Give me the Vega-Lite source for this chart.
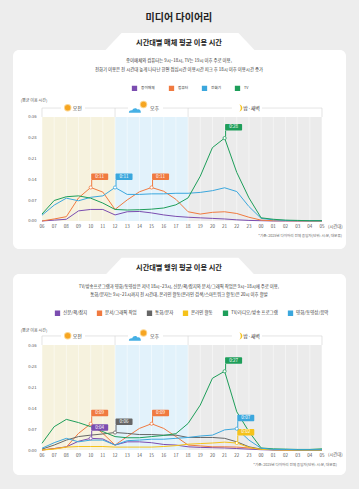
{
"$schema":"https://vega.github.io/schema/vega-lite/v6.json",
"width":359,"height":489,
"autosize":{"type":"fit","contains":"padding"},
"padding":0,
"background":"#ededed",
"config":{"font":"Noto Sans CJK KR","view":{"stroke":null}},
"datasets":{
"media":[
{"t":0,"m":"종이매체","v":0},{"t":1,"m":"종이매체","v":0.3},{"t":2,"m":"종이매체","v":0.6},{"t":3,"m":"종이매체","v":3.5},{"t":4,"m":"종이매체","v":4},{"t":5,"m":"종이매체","v":4},{"t":6,"m":"종이매체","v":2.1},{"t":7,"m":"종이매체","v":3.2},{"t":8,"m":"종이매체","v":3.3},{"t":9,"m":"종이매체","v":2.8},{"t":10,"m":"종이매체","v":2.1},{"t":11,"m":"종이매체","v":1.6},{"t":12,"m":"종이매체","v":1.3},{"t":13,"m":"종이매체","v":1.1},{"t":14,"m":"종이매체","v":0.9},{"t":15,"m":"종이매체","v":0.7},{"t":16,"m":"종이매체","v":0.4},{"t":17,"m":"종이매체","v":0.2},{"t":18,"m":"종이매체","v":0.1},{"t":19,"m":"종이매체","v":0},{"t":20,"m":"종이매체","v":0},{"t":21,"m":"종이매체","v":0},{"t":22,"m":"종이매체","v":0},{"t":23,"m":"종이매체","v":0},
{"t":0,"m":"컴퓨터","v":0},{"t":1,"m":"컴퓨터","v":0.7},{"t":2,"m":"컴퓨터","v":1.5},{"t":3,"m":"컴퓨터","v":8},{"t":4,"m":"컴퓨터","v":11.6},{"t":5,"m":"컴퓨터","v":10},{"t":6,"m":"컴퓨터","v":4},{"t":7,"m":"컴퓨터","v":7.3},{"t":8,"m":"컴퓨터","v":10.1},{"t":9,"m":"컴퓨터","v":11.6},{"t":10,"m":"컴퓨터","v":10.3},{"t":11,"m":"컴퓨터","v":7.5},{"t":12,"m":"컴퓨터","v":3.2},{"t":13,"m":"컴퓨터","v":2.4},{"t":14,"m":"컴퓨터","v":3},{"t":15,"m":"컴퓨터","v":3.2},{"t":16,"m":"컴퓨터","v":2.6},{"t":17,"m":"컴퓨터","v":1.3},{"t":18,"m":"컴퓨터","v":0.3},{"t":19,"m":"컴퓨터","v":0.1},{"t":20,"m":"컴퓨터","v":0.1},{"t":21,"m":"컴퓨터","v":0},{"t":22,"m":"컴퓨터","v":0},{"t":23,"m":"컴퓨터","v":0},
{"t":0,"m":"전화기","v":2},{"t":1,"m":"전화기","v":5.5},{"t":2,"m":"전화기","v":7.9},{"t":3,"m":"전화기","v":7},{"t":4,"m":"전화기","v":8.2},{"t":5,"m":"전화기","v":8.7},{"t":6,"m":"전화기","v":11.6},{"t":7,"m":"전화기","v":9.2},{"t":8,"m":"전화기","v":9.2},{"t":9,"m":"전화기","v":9.4},{"t":10,"m":"전화기","v":9.4},{"t":11,"m":"전화기","v":9.6},{"t":12,"m":"전화기","v":9.6},{"t":13,"m":"전화기","v":9.9},{"t":14,"m":"전화기","v":10.5},{"t":15,"m":"전화기","v":11.5},{"t":16,"m":"전화기","v":10.2},{"t":17,"m":"전화기","v":5},{"t":18,"m":"전화기","v":0.9},{"t":19,"m":"전화기","v":0.4},{"t":20,"m":"전화기","v":0.2},{"t":21,"m":"전화기","v":0.1},{"t":22,"m":"전화기","v":0.1},{"t":23,"m":"전화기","v":0.1},
{"t":0,"m":"TV","v":2.4},{"t":1,"m":"TV","v":7.1},{"t":2,"m":"TV","v":8.4},{"t":3,"m":"TV","v":8.7},{"t":4,"m":"TV","v":7.9},{"t":5,"m":"TV","v":6.2},{"t":6,"m":"TV","v":4},{"t":7,"m":"TV","v":3.8},{"t":8,"m":"TV","v":3.9},{"t":9,"m":"TV","v":4.1},{"t":10,"m":"TV","v":4.5},{"t":11,"m":"TV","v":5.6},{"t":12,"m":"TV","v":8},{"t":13,"m":"TV","v":15.5},{"t":14,"m":"TV","v":25.4},{"t":15,"m":"TV","v":28.7},{"t":16,"m":"TV","v":16.8},{"t":17,"m":"TV","v":8},{"t":18,"m":"TV","v":1.1},{"t":19,"m":"TV","v":0.6},{"t":20,"m":"TV","v":0.3},{"t":21,"m":"TV","v":0.2},{"t":22,"m":"TV","v":0.1},{"t":23,"m":"TV","v":0.1}
],
"act":[
{"t":0,"m":"신문/책/잡지","v":0},{"t":1,"m":"신문/책/잡지","v":0.5},{"t":2,"m":"신문/책/잡지","v":1.1},{"t":3,"m":"신문/책/잡지","v":3},{"t":4,"m":"신문/책/잡지","v":4},{"t":5,"m":"신문/책/잡지","v":3.8},{"t":6,"m":"신문/책/잡지","v":1.7},{"t":7,"m":"신문/책/잡지","v":2.8},{"t":8,"m":"신문/책/잡지","v":2.8},{"t":9,"m":"신문/책/잡지","v":2.5},{"t":10,"m":"신문/책/잡지","v":1.9},{"t":11,"m":"신문/책/잡지","v":1.7},{"t":12,"m":"신문/책/잡지","v":1.1},{"t":13,"m":"신문/책/잡지","v":0.9},{"t":14,"m":"신문/책/잡지","v":0.8},{"t":15,"m":"신문/책/잡지","v":0.7},{"t":16,"m":"신문/책/잡지","v":0.5},{"t":17,"m":"신문/책/잡지","v":0.3},{"t":18,"m":"신문/책/잡지","v":0.1},{"t":19,"m":"신문/책/잡지","v":0},{"t":20,"m":"신문/책/잡지","v":0},{"t":21,"m":"신문/책/잡지","v":0},{"t":22,"m":"신문/책/잡지","v":0},{"t":23,"m":"신문/책/잡지","v":0},
{"t":0,"m":"문서/그래픽 작업","v":0},{"t":1,"m":"문서/그래픽 작업","v":0.5},{"t":2,"m":"문서/그래픽 작업","v":1},{"t":3,"m":"문서/그래픽 작업","v":5.7},{"t":4,"m":"문서/그래픽 작업","v":9},{"t":5,"m":"문서/그래픽 작업","v":5.7},{"t":6,"m":"문서/그래픽 작업","v":1.7},{"t":7,"m":"문서/그래픽 작업","v":4.6},{"t":8,"m":"문서/그래픽 작업","v":7.4},{"t":9,"m":"문서/그래픽 작업","v":9},{"t":10,"m":"문서/그래픽 작업","v":7.4},{"t":11,"m":"문서/그래픽 작업","v":4.6},{"t":12,"m":"문서/그래픽 작업","v":1.7},{"t":13,"m":"문서/그래픽 작업","v":1.4},{"t":14,"m":"문서/그래픽 작업","v":1.1},{"t":15,"m":"문서/그래픽 작업","v":1.1},{"t":16,"m":"문서/그래픽 작업","v":1},{"t":17,"m":"문서/그래픽 작업","v":0.7},{"t":18,"m":"문서/그래픽 작업","v":0.3},{"t":19,"m":"문서/그래픽 작업","v":0.1},{"t":20,"m":"문서/그래픽 작업","v":0},{"t":21,"m":"문서/그래픽 작업","v":0},{"t":22,"m":"문서/그래픽 작업","v":0},{"t":23,"m":"문서/그래픽 작업","v":0},
{"t":0,"m":"통화/문자","v":0.3},{"t":1,"m":"통화/문자","v":1.7},{"t":2,"m":"통화/문자","v":3.4},{"t":3,"m":"통화/문자","v":4.6},{"t":4,"m":"통화/문자","v":5.1},{"t":5,"m":"통화/문자","v":5.5},{"t":6,"m":"통화/문자","v":6},{"t":7,"m":"통화/문자","v":5.7},{"t":8,"m":"통화/문자","v":5.3},{"t":9,"m":"통화/문자","v":5.3},{"t":10,"m":"통화/문자","v":5.1},{"t":11,"m":"통화/문자","v":5.1},{"t":12,"m":"통화/문자","v":4.3},{"t":13,"m":"통화/문자","v":4.3},{"t":14,"m":"통화/문자","v":4.3},{"t":15,"m":"통화/문자","v":4},{"t":16,"m":"통화/문자","v":2.8},{"t":17,"m":"통화/문자","v":1.1},{"t":18,"m":"통화/문자","v":0.3},{"t":19,"m":"통화/문자","v":0.1},{"t":20,"m":"통화/문자","v":0.1},{"t":21,"m":"통화/문자","v":0},{"t":22,"m":"통화/문자","v":0},{"t":23,"m":"통화/문자","v":0},
{"t":0,"m":"온라인 활동","v":0},{"t":1,"m":"온라인 활동","v":0.3},{"t":2,"m":"온라인 활동","v":1},{"t":3,"m":"온라인 활동","v":1.2},{"t":4,"m":"온라인 활동","v":1.2},{"t":5,"m":"온라인 활동","v":1.2},{"t":6,"m":"온라인 활동","v":1},{"t":7,"m":"온라인 활동","v":1},{"t":8,"m":"온라인 활동","v":1},{"t":9,"m":"온라인 활동","v":1},{"t":10,"m":"온라인 활동","v":1.2},{"t":11,"m":"온라인 활동","v":1.5},{"t":12,"m":"온라인 활동","v":2},{"t":13,"m":"온라인 활동","v":2.2},{"t":14,"m":"온라인 활동","v":2.4},{"t":15,"m":"온라인 활동","v":2.7},{"t":16,"m":"온라인 활동","v":2.4},{"t":17,"m":"온라인 활동","v":0.9},{"t":18,"m":"온라인 활동","v":0.2},{"t":19,"m":"온라인 활동","v":0.1},{"t":20,"m":"온라인 활동","v":0},{"t":21,"m":"온라인 활동","v":0},{"t":22,"m":"온라인 활동","v":0},{"t":23,"m":"온라인 활동","v":0},
{"t":0,"m":"TV/라디오/방송 프로그램","v":2.3},{"t":1,"m":"TV/라디오/방송 프로그램","v":8},{"t":2,"m":"TV/라디오/방송 프로그램","v":10.5},{"t":3,"m":"TV/라디오/방송 프로그램","v":9.4},{"t":4,"m":"TV/라디오/방송 프로그램","v":8},{"t":5,"m":"TV/라디오/방송 프로그램","v":6.3},{"t":6,"m":"TV/라디오/방송 프로그램","v":4.6},{"t":7,"m":"TV/라디오/방송 프로그램","v":4.2},{"t":8,"m":"TV/라디오/방송 프로그램","v":4.2},{"t":9,"m":"TV/라디오/방송 프로그램","v":4.6},{"t":10,"m":"TV/라디오/방송 프로그램","v":5},{"t":11,"m":"TV/라디오/방송 프로그램","v":5.6},{"t":12,"m":"TV/라디오/방송 프로그램","v":9.1},{"t":13,"m":"TV/라디오/방송 프로그램","v":15.4},{"t":14,"m":"TV/라디오/방송 프로그램","v":24.6},{"t":15,"m":"TV/라디오/방송 프로그램","v":27},{"t":16,"m":"TV/라디오/방송 프로그램","v":13.1},{"t":17,"m":"TV/라디오/방송 프로그램","v":6.3},{"t":18,"m":"TV/라디오/방송 프로그램","v":0.7},{"t":19,"m":"TV/라디오/방송 프로그램","v":0.4},{"t":20,"m":"TV/라디오/방송 프로그램","v":0.3},{"t":21,"m":"TV/라디오/방송 프로그램","v":0.2},{"t":22,"m":"TV/라디오/방송 프로그램","v":0.2},{"t":23,"m":"TV/라디오/방송 프로그램","v":0.4},
{"t":0,"m":"영화/동영상/음악","v":0.6},{"t":1,"m":"영화/동영상/음악","v":2.5},{"t":2,"m":"영화/동영상/음악","v":4},{"t":3,"m":"영화/동영상/음악","v":2.8},{"t":4,"m":"영화/동영상/음악","v":3.4},{"t":5,"m":"영화/동영상/음악","v":3.4},{"t":6,"m":"영화/동영상/음악","v":1.7},{"t":7,"m":"영화/동영상/음악","v":3.2},{"t":8,"m":"영화/동영상/음악","v":3.4},{"t":9,"m":"영화/동영상/음악","v":3.7},{"t":10,"m":"영화/동영상/음악","v":3.7},{"t":11,"m":"영화/동영상/음악","v":4},{"t":12,"m":"영화/동영상/음악","v":4.3},{"t":13,"m":"영화/동영상/음악","v":4.8},{"t":14,"m":"영화/동영상/음악","v":5.1},{"t":15,"m":"영화/동영상/음악","v":6.9},{"t":16,"m":"영화/동영상/음악","v":7.3},{"t":17,"m":"영화/동영상/음악","v":3.4},{"t":18,"m":"영화/동영상/음악","v":0.6},{"t":19,"m":"영화/동영상/음악","v":0.2},{"t":20,"m":"영화/동영상/음악","v":0.2},{"t":21,"m":"영화/동영상/음악","v":0.1},{"t":22,"m":"영화/동영상/음악","v":0.1},{"t":23,"m":"영화/동영상/음악","v":0.1}
],
"call1":[
{"t":4,"m":"컴퓨터","v":11.6,"label":"0:11"},{"t":6,"m":"전화기","v":11.6,"label":"0:11"},{"t":9,"m":"컴퓨터","v":11.6,"label":"0:11"},{"t":15,"m":"TV","v":28.7,"label":"0:28"}
],
"call2":[
{"t":4,"m":"문서/그래픽 작업","v":9,"label":"0:09"},{"t":4,"m":"신문/책/잡지","v":4,"label":"0:04"},{"t":6,"m":"통화/문자","v":6,"label":"0:06"},{"t":9,"m":"문서/그래픽 작업","v":9,"label":"0:09"},{"t":15,"m":"TV/라디오/방송 프로그램","v":27,"label":"0:27"},{"t":16,"m":"영화/동영상/음악","v":7.3,"label":"0:07"},{"t":16,"m":"온라인 활동","v":2.4,"label":"0:02"}
]
},
"layer":[
{
"layer":[
{"data":{"values":[{}]},"mark":{"type":"rect","fill":"#ffffff","cornerRadius":6},
 "encoding":{"x":{"datum":-2.382,"type":"quantitative","scale":{"domain":[-3.45,26.04],"nice":false,"zero":false}},"x2":{"datum":24.97},
 "y":{"datum":-9.69,"type":"quantitative","scale":{"domain":[-92.77,76.5],"nice":false,"zero":false}},"y2":{"datum":59.19}}},
{"data":{"values":[{}]},"mark":{"type":"point","shape":"M-0.78,-0.113L0.78,-0.113L1,0.12L-1,0.12Z","size":22500,"filled":true,"fill":"#ffffff","opacity":1,"strokeWidth":0},
 "encoding":{"x":{"datum":11.336,"type":"quantitative"},"y":{"datum":62.13,"type":"quantitative"}}},
{"data":{"values":[{}]},"mark":{"type":"text","text":"미디어 다이어리","fontSize":10,"fontWeight":"bold","color":"#222222","align":"center","baseline":"middle"},
 "encoding":{"x":{"datum":11.25,"type":"quantitative"},"y":{"datum":70.1,"type":"quantitative"}}},
{"data":{"values":[{}]},"mark":{"type":"text","text":"시간대별 매체 평균 이용 시간","fontSize":7.2,"fontWeight":"bold","color":"#222222","align":"center","baseline":"middle"},
 "encoding":{"x":{"datum":11.25,"type":"quantitative"},"y":{"datum":61.5,"type":"quantitative"}}},
{"data":{"values":[{}]},"mark":{"type":"text","text":"종이매체와 컴퓨터는 9시~18시, TV는 19시 이후 주로 이용,","fontSize":4.4,"color":"#333333","align":"center","baseline":"middle"},
 "encoding":{"x":{"datum":11.25,"type":"quantitative"},"y":{"datum":55.3,"type":"quantitative"}}},
{"data":{"values":[{}]},"mark":{"type":"text","text":"전화기 이용은 전 시간대 높게 나타난 한편 점심시간 이용시간 피크 후 18시 이후 이용시간 증가","fontSize":4.4,"color":"#333333","align":"center","baseline":"middle"},
 "encoding":{"x":{"datum":11.25,"type":"quantitative"},"y":{"datum":52.2,"type":"quantitative"}}},
{"data":{"values":[{}]},"mark":{"type":"rect","fill":"#f6f2de"},
 "encoding":{"x":{"datum":0,"type":"quantitative"},"x2":{"datum":6},"y":{"datum":0,"type":"quantitative"},"y2":{"datum":36}}},
{"data":{"values":[{}]},"mark":{"type":"rect","fill":"#e2f2fb"},
 "encoding":{"x":{"datum":6,"type":"quantitative"},"x2":{"datum":12},"y":{"datum":0,"type":"quantitative"},"y2":{"datum":36}}},
{"data":{"values":[{}]},"mark":{"type":"rect","fill":"#ebebeb"},
 "encoding":{"x":{"datum":12,"type":"quantitative"},"x2":{"datum":23},"y":{"datum":0,"type":"quantitative"},"y2":{"datum":36}}},
{"data":{"name":"media"},"transform":[{"filter":"datum.m == 'TV'"}],"mark":{"type":"rule","stroke":"#ffffff","strokeWidth":0.6,"opacity":0.8},
 "encoding":{"x":{"field":"t","type":"quantitative"},"y":{"datum":0,"type":"quantitative"},"y2":{"datum":36}}},
{"data":{"name":"media"},"transform":[{"filter":"datum.m == 'TV'"},{"calculate":"pad('' + ((datum.t + 6) % 24), 2, '0', 'left')","as":"hour"}],"mark":{"type":"text","fontSize":4.5,"color":"#555555","align":"center","baseline":"top","dy":3},
 "encoding":{"x":{"field":"t","type":"quantitative"},"y":{"datum":0,"type":"quantitative"},"text":{"field":"hour"}}},
{"data":{"values":[{}]},"mark":{"type":"rule","stroke":"#d4d4d4","strokeWidth":0.6},
 "encoding":{"x":{"datum":0,"type":"quantitative"},"x2":{"datum":23},"y":{"datum":39.1,"type":"quantitative"}}},
{"data":{"name":"media"},"transform":[{"filter":"datum.m == 'TV' && (datum.t == 0 || datum.t == 6 || datum.t == 12 || datum.t == 23)"}],"mark":{"type":"rule","stroke":"#d4d4d4","strokeWidth":0.6},
 "encoding":{"x":{"field":"t","type":"quantitative"},"y":{"datum":36,"type":"quantitative"},"y2":{"datum":39.1}}},
{"data":{"values":[{}]},"mark":{"type":"rect","fill":"#ffffff"},
 "encoding":{"x":{"datum":1.56,"type":"quantitative"},"x2":{"datum":3.53},"y":{"datum":37.6,"type":"quantitative"},"y2":{"datum":40.9}}},
{"data":{"values":[{}]},"mark":{"type":"rect","fill":"#ffffff"},
 "encoding":{"x":{"datum":7.06,"type":"quantitative"},"x2":{"datum":9.94},"y":{"datum":37.6,"type":"quantitative"},"y2":{"datum":40.9}}},
{"data":{"values":[{}]},"mark":{"type":"rect","fill":"#ffffff"},
 "encoding":{"x":{"datum":15.6,"type":"quantitative"},"x2":{"datum":18.07},"y":{"datum":37.6,"type":"quantitative"},"y2":{"datum":40.9}}},
{"data":{"values":[{}]},"mark":{"type":"point","shape":"circle","size":55,"filled":true,"fill":"#fcd58e","opacity":1,"strokeWidth":0},
 "encoding":{"x":{"datum":2.11,"type":"quantitative"},"y":{"datum":39.2,"type":"quantitative"}}},
{"data":{"values":[{}]},"mark":{"type":"point","shape":"circle","size":30,"filled":true,"fill":"#f6a521","opacity":1,"strokeWidth":0},
 "encoding":{"x":{"datum":2.11,"type":"quantitative"},"y":{"datum":39.2,"type":"quantitative"}}},
{"data":{"values":[{}]},"mark":{"type":"point","shape":"circle","size":55,"filled":true,"fill":"#fcd58e","opacity":1,"strokeWidth":0},
 "encoding":{"x":{"datum":8.34,"type":"quantitative"},"y":{"datum":40.3,"type":"quantitative"}}},
{"data":{"values":[{}]},"mark":{"type":"point","shape":"circle","size":30,"filled":true,"fill":"#f6a521","opacity":1,"strokeWidth":0},
 "encoding":{"x":{"datum":8.34,"type":"quantitative"},"y":{"datum":40.3,"type":"quantitative"}}},
{"data":{"values":[{}]},"mark":{"type":"point","shape":"M-1,0.45C-1,0.1 -0.7,0 -0.45,0.05C-0.35,-0.35 0.2,-0.45 0.4,-0.1C0.75,-0.2 1,0.1 0.95,0.45Z","size":150,"filled":true,"fill":"#45b0e5","opacity":1,"strokeWidth":0},
 "encoding":{"x":{"datum":7.64,"type":"quantitative"},"y":{"datum":38.4,"type":"quantitative"}}},
{"data":{"values":[{}]},"mark":{"type":"point","shape":"M0,-1A1,1 0 1,1 0,1A0.55,1 0 1,0 0,-1Z","size":49,"filled":true,"fill":"#f5c21b","opacity":1,"strokeWidth":0},
 "encoding":{"x":{"datum":16.17,"type":"quantitative"},"y":{"datum":39.1,"type":"quantitative"}}},
{"data":{"values":[{}]},"mark":{"type":"text","text":"오전","fontSize":5,"color":"#333333","align":"left","baseline":"middle"},
 "encoding":{"x":{"datum":2.52,"type":"quantitative"},"y":{"datum":39.2,"type":"quantitative"}}},
{"data":{"values":[{}]},"mark":{"type":"text","text":"오후","fontSize":5,"color":"#333333","align":"left","baseline":"middle"},
 "encoding":{"x":{"datum":8.87,"type":"quantitative"},"y":{"datum":39.2,"type":"quantitative"}}},
{"data":{"values":[{}]},"mark":{"type":"text","text":"밤·새벽","fontSize":5,"color":"#333333","align":"left","baseline":"middle"},
 "encoding":{"x":{"datum":16.54,"type":"quantitative"},"y":{"datum":39.2,"type":"quantitative"}}},
{"data":{"values":[{}]},"mark":{"type":"text","text":"(평균 이용 시간)","fontSize":4,"color":"#555555","align":"center","baseline":"middle"},
 "encoding":{"x":{"datum":-0.657,"type":"quantitative"},"y":{"datum":41.5,"type":"quantitative"}}},
{"data":{"name":"media"},"mark":{"type":"line","strokeWidth":1},
 "encoding":{
  "x":{"field":"t","type":"quantitative","axis":{"orient":"bottom","offset":-268,"zindex":2,"labels":false,"domain":false,"ticks":false,"grid":false,"title":null}},
  "y":{"field":"v","type":"quantitative","axis":{"orient":"left","offset":-40,"zindex":2,"values":[0,7.2,14.4,21.6,28.8,36],"labelExpr":"'0:' + pad('' + floor(datum.value), 2, '0', 'left')","domain":false,"ticks":false,"tickSize":0,"grid":false,"labelPadding":4,"labelFontSize":4.2,"labelColor":"#555555","title":null,"labelOverlap":false,"labelFlush":false,"labelBaseline":"middle"}},
  "color":{"field":"m","type":"nominal","scale":{"domain":["종이매체","컴퓨터","전화기","TV"],"range":["#7b4db0","#f07a40","#3ba7dd","#1e9e5a"]},
   "legend":{"orient":"none","legendX":131.5,"legendY":85,"direction":"horizontal","title":null,"symbolType":"square","symbolSize":9,"symbolStrokeWidth":2.3,"labelFontSize":3.7,"labelColor":"#333333","labelOffset":3.5,"columnPadding":9,"padding":0,"symbolOpacity":1,"labelBaseline":"middle"}}}},
{"data":{"name":"call1"},"mark":{"type":"rule","strokeWidth":1,"xOffset":1,"yOffset":-1.5,"y2Offset":-7.5},
 "encoding":{"x":{"field":"t","type":"quantitative"},"y":{"field":"v","type":"quantitative"},"y2":{"field":"v"},"color":{"field":"m","type":"nominal","legend":null}}},
{"data":{"name":"call1"},"mark":{"type":"rect","xOffset":0.5,"x2Offset":17.5,"yOffset":-14,"y2Offset":-7.5,"cornerRadius":1},
 "encoding":{"x":{"field":"t","type":"quantitative"},"x2":{"field":"t"},"y":{"field":"v","type":"quantitative"},"y2":{"field":"v"},"color":{"field":"m","type":"nominal","legend":null}}},
{"data":{"name":"call1"},"mark":{"type":"text","dx":9,"dy":-10.75,"fontSize":4.6,"fill":"#ffffff","align":"center","baseline":"middle"},
 "encoding":{"x":{"field":"t","type":"quantitative"},"y":{"field":"v","type":"quantitative"},"text":{"field":"label"}}},
{"data":{"name":"call1"},"mark":{"type":"point","filled":false,"fill":"#ffffff","size":10,"strokeWidth":0.8,"opacity":1},
 "encoding":{"x":{"field":"t","type":"quantitative"},"y":{"field":"v","type":"quantitative"},"color":{"field":"m","type":"nominal","legend":null}}},
{"data":{"values":[{}]},"mark":{"type":"text","text":"(시간대)","fontSize":4.3,"color":"#555555","align":"left","baseline":"middle"},
 "encoding":{"x":{"datum":23.49,"type":"quantitative"},"y":{"datum":-1.97,"type":"quantitative"}}},
{"data":{"values":[{}]},"mark":{"type":"text","text":"*기준: 2025년 다이어리 전체 응답자(단위: 시:분, 대분류)","fontSize":3.6,"color":"#666666","align":"right","baseline":"middle"},
 "encoding":{"x":{"datum":24.64,"type":"quantitative"},"y":{"datum":-5.19,"type":"quantitative"}}}
]
},
{
"layer":[
{"data":{"values":[{}]},"mark":{"type":"rect","fill":"#ffffff","cornerRadius":6},
 "encoding":{"x":{"datum":-2.382,"type":"quantitative","scale":{"domain":[-3.45,26.04],"nice":false,"zero":false}},"x2":{"datum":24.97},
 "y":{"datum":-8.57,"type":"quantitative","scale":{"domain":[-13.37,154.29],"nice":false,"zero":false}},"y2":{"datum":60.34}}},
{"data":{"values":[{}]},"mark":{"type":"point","shape":"M-0.78,-0.113L0.78,-0.113L1,0.12L-1,0.12Z","size":22500,"filled":true,"fill":"#ffffff","opacity":1,"strokeWidth":0},
 "encoding":{"x":{"datum":11.336,"type":"quantitative"},"y":{"datum":62.98,"type":"quantitative"}}},
{"data":{"values":[{}]},"mark":{"type":"text","text":"시간대별 행위 평균 이용 시간","fontSize":7.2,"fontWeight":"bold","color":"#222222","align":"center","baseline":"middle"},
 "encoding":{"x":{"datum":11.25,"type":"quantitative"},"y":{"datum":62.47,"type":"quantitative"}}},
{"data":{"values":[{}]},"mark":{"type":"text","text":"TV/방송프로그램과 영화/동영상은 저녁 18시~23시, 신문/책/잡지와 문서/그래픽 작업은 9시~18시에 주로 이용,","fontSize":4.4,"color":"#333333","align":"center","baseline":"middle"},
 "encoding":{"x":{"datum":11.25,"type":"quantitative"},"y":{"datum":55.82,"type":"quantitative"}}},
{"data":{"values":[{}]},"mark":{"type":"text","text":"통화/문자는 9시~21시까지 전 시간대, 온라인 활동(온라인 검색/스마트워크 활동)은 20시 이후 활발","fontSize":4.4,"color":"#333333","align":"center","baseline":"middle"},
 "encoding":{"x":{"datum":11.25,"type":"quantitative"},"y":{"datum":53.07,"type":"quantitative"}}},
{"data":{"values":[{}]},"mark":{"type":"rect","fill":"#f6f2de"},
 "encoding":{"x":{"datum":0,"type":"quantitative"},"x2":{"datum":6},"y":{"datum":0,"type":"quantitative"},"y2":{"datum":36}}},
{"data":{"values":[{}]},"mark":{"type":"rect","fill":"#e2f2fb"},
 "encoding":{"x":{"datum":6,"type":"quantitative"},"x2":{"datum":12},"y":{"datum":0,"type":"quantitative"},"y2":{"datum":36}}},
{"data":{"values":[{}]},"mark":{"type":"rect","fill":"#ebebeb"},
 "encoding":{"x":{"datum":12,"type":"quantitative"},"x2":{"datum":23},"y":{"datum":0,"type":"quantitative"},"y2":{"datum":36}}},
{"data":{"name":"act"},"transform":[{"filter":"datum.m == '통화/문자'"}],"mark":{"type":"rule","stroke":"#ffffff","strokeWidth":0.6,"opacity":0.8},
 "encoding":{"x":{"field":"t","type":"quantitative"},"y":{"datum":0,"type":"quantitative"},"y2":{"datum":36}}},
{"data":{"name":"act"},"transform":[{"filter":"datum.m == '통화/문자'"},{"calculate":"pad('' + ((datum.t + 6) % 24), 2, '0', 'left')","as":"hour"}],"mark":{"type":"text","fontSize":4.5,"color":"#555555","align":"center","baseline":"top","dy":3},
 "encoding":{"x":{"field":"t","type":"quantitative"},"y":{"datum":0,"type":"quantitative"},"text":{"field":"hour"}}},
{"data":{"values":[{}]},"mark":{"type":"rule","stroke":"#d4d4d4","strokeWidth":0.6},
 "encoding":{"x":{"datum":0,"type":"quantitative"},"x2":{"datum":23},"y":{"datum":39.1,"type":"quantitative"}}},
{"data":{"name":"act"},"transform":[{"filter":"datum.m == '통화/문자' && (datum.t == 0 || datum.t == 6 || datum.t == 12 || datum.t == 23)"}],"mark":{"type":"rule","stroke":"#d4d4d4","strokeWidth":0.6},
 "encoding":{"x":{"field":"t","type":"quantitative"},"y":{"datum":36,"type":"quantitative"},"y2":{"datum":39.1}}},
{"data":{"values":[{}]},"mark":{"type":"rect","fill":"#ffffff"},
 "encoding":{"x":{"datum":1.56,"type":"quantitative"},"x2":{"datum":3.53},"y":{"datum":37.6,"type":"quantitative"},"y2":{"datum":40.9}}},
{"data":{"values":[{}]},"mark":{"type":"rect","fill":"#ffffff"},
 "encoding":{"x":{"datum":7.06,"type":"quantitative"},"x2":{"datum":9.94},"y":{"datum":37.6,"type":"quantitative"},"y2":{"datum":40.9}}},
{"data":{"values":[{}]},"mark":{"type":"rect","fill":"#ffffff"},
 "encoding":{"x":{"datum":15.6,"type":"quantitative"},"x2":{"datum":18.07},"y":{"datum":37.6,"type":"quantitative"},"y2":{"datum":40.9}}},
{"data":{"values":[{}]},"mark":{"type":"point","shape":"circle","size":55,"filled":true,"fill":"#fcd58e","opacity":1,"strokeWidth":0},
 "encoding":{"x":{"datum":2.11,"type":"quantitative"},"y":{"datum":39.2,"type":"quantitative"}}},
{"data":{"values":[{}]},"mark":{"type":"point","shape":"circle","size":30,"filled":true,"fill":"#f6a521","opacity":1,"strokeWidth":0},
 "encoding":{"x":{"datum":2.11,"type":"quantitative"},"y":{"datum":39.2,"type":"quantitative"}}},
{"data":{"values":[{}]},"mark":{"type":"point","shape":"circle","size":55,"filled":true,"fill":"#fcd58e","opacity":1,"strokeWidth":0},
 "encoding":{"x":{"datum":8.34,"type":"quantitative"},"y":{"datum":40.1,"type":"quantitative"}}},
{"data":{"values":[{}]},"mark":{"type":"point","shape":"circle","size":30,"filled":true,"fill":"#f6a521","opacity":1,"strokeWidth":0},
 "encoding":{"x":{"datum":8.34,"type":"quantitative"},"y":{"datum":40.1,"type":"quantitative"}}},
{"data":{"values":[{}]},"mark":{"type":"point","shape":"M-1,0.45C-1,0.1 -0.7,0 -0.45,0.05C-0.35,-0.35 0.2,-0.45 0.4,-0.1C0.75,-0.2 1,0.1 0.95,0.45Z","size":150,"filled":true,"fill":"#45b0e5","opacity":1,"strokeWidth":0},
 "encoding":{"x":{"datum":7.64,"type":"quantitative"},"y":{"datum":38.4,"type":"quantitative"}}},
{"data":{"values":[{}]},"mark":{"type":"point","shape":"M0,-1A1,1 0 1,1 0,1A0.55,1 0 1,0 0,-1Z","size":49,"filled":true,"fill":"#f5c21b","opacity":1,"strokeWidth":0},
 "encoding":{"x":{"datum":16.17,"type":"quantitative"},"y":{"datum":39.1,"type":"quantitative"}}},
{"data":{"values":[{}]},"mark":{"type":"text","text":"오전","fontSize":5,"color":"#333333","align":"left","baseline":"middle"},
 "encoding":{"x":{"datum":2.52,"type":"quantitative"},"y":{"datum":39.2,"type":"quantitative"}}},
{"data":{"values":[{}]},"mark":{"type":"text","text":"오후","fontSize":5,"color":"#333333","align":"left","baseline":"middle"},
 "encoding":{"x":{"datum":8.87,"type":"quantitative"},"y":{"datum":39.2,"type":"quantitative"}}},
{"data":{"values":[{}]},"mark":{"type":"text","text":"밤·새벽","fontSize":5,"color":"#333333","align":"left","baseline":"middle"},
 "encoding":{"x":{"datum":16.54,"type":"quantitative"},"y":{"datum":39.2,"type":"quantitative"}}},
{"data":{"values":[{}]},"mark":{"type":"text","text":"(평균 이용 시간)","fontSize":4,"color":"#555555","align":"center","baseline":"middle"},
 "encoding":{"x":{"datum":-0.657,"type":"quantitative"},"y":{"datum":40.87,"type":"quantitative"}}},
{"data":{"name":"act"},"mark":{"type":"line","strokeWidth":1},
 "encoding":{
  "x":{"field":"t","type":"quantitative","axis":{"orient":"bottom","offset":-39,"zindex":2,"labels":false,"domain":false,"ticks":false,"grid":false,"title":null}},
  "y":{"field":"v","type":"quantitative","axis":{"orient":"left","offset":-40,"zindex":2,"values":[0,7.2,14.4,21.6,28.8,36],"labelExpr":"'0:' + pad('' + floor(datum.value), 2, '0', 'left')","domain":false,"ticks":false,"tickSize":0,"grid":false,"labelPadding":4,"labelFontSize":4.2,"labelColor":"#555555","title":null,"labelOverlap":false,"labelFlush":false,"labelBaseline":"middle"}},
  "color":{"field":"m","type":"nominal","scale":{"domain":["신문/책/잡지","문서/그래픽 작업","통화/문자","온라인 활동","TV/라디오/방송 프로그램","영화/동영상/음악"],"range":["#7b4db0","#f07a40","#666666","#f5c21b","#1e9e5a","#3ba7dd"]},
   "legend":{"orient":"none","legendX":54.5,"legendY":309.8,"direction":"horizontal","title":null,"symbolType":"square","symbolSize":9,"symbolStrokeWidth":2.3,"labelFontSize":4.5,"labelColor":"#333333","labelOffset":2.5,"columnPadding":5,"padding":0,"symbolOpacity":1,"labelBaseline":"middle"}}}},
{"data":{"name":"call2"},"mark":{"type":"rule","strokeWidth":1,"xOffset":1,"yOffset":-1.5,"y2Offset":-7.5},
 "encoding":{"x":{"field":"t","type":"quantitative"},"y":{"field":"v","type":"quantitative"},"y2":{"field":"v"},"color":{"field":"m","type":"nominal","legend":null}}},
{"data":{"name":"call2"},"mark":{"type":"rect","xOffset":0.5,"x2Offset":17.5,"yOffset":-14,"y2Offset":-7.5,"cornerRadius":1},
 "encoding":{"x":{"field":"t","type":"quantitative"},"x2":{"field":"t"},"y":{"field":"v","type":"quantitative"},"y2":{"field":"v"},"color":{"field":"m","type":"nominal","legend":null}}},
{"data":{"name":"call2"},"mark":{"type":"text","dx":9,"dy":-10.75,"fontSize":4.6,"fill":"#ffffff","align":"center","baseline":"middle"},
 "encoding":{"x":{"field":"t","type":"quantitative"},"y":{"field":"v","type":"quantitative"},"text":{"field":"label"}}},
{"data":{"name":"call2"},"mark":{"type":"point","filled":false,"fill":"#ffffff","size":10,"strokeWidth":0.8,"opacity":1},
 "encoding":{"x":{"field":"t","type":"quantitative"},"y":{"field":"v","type":"quantitative"},"color":{"field":"m","type":"nominal","legend":null}}},
{"data":{"values":[{}]},"mark":{"type":"text","text":"(시간대)","fontSize":4.3,"color":"#555555","align":"left","baseline":"middle"},
 "encoding":{"x":{"datum":23.49,"type":"quantitative"},"y":{"datum":-1.71,"type":"quantitative"}}},
{"data":{"values":[{}]},"mark":{"type":"text","text":"*기준: 2025년 다이어리 전체 응답자(단위: 시:분, 대분류)","fontSize":3.6,"color":"#666666","align":"right","baseline":"middle"},
 "encoding":{"x":{"datum":24.23,"type":"quantitative"},"y":{"datum":-5.14,"type":"quantitative"}}}
]
}
],
"resolve":{"scale":{"x":"independent","y":"independent","color":"independent"}}
}
